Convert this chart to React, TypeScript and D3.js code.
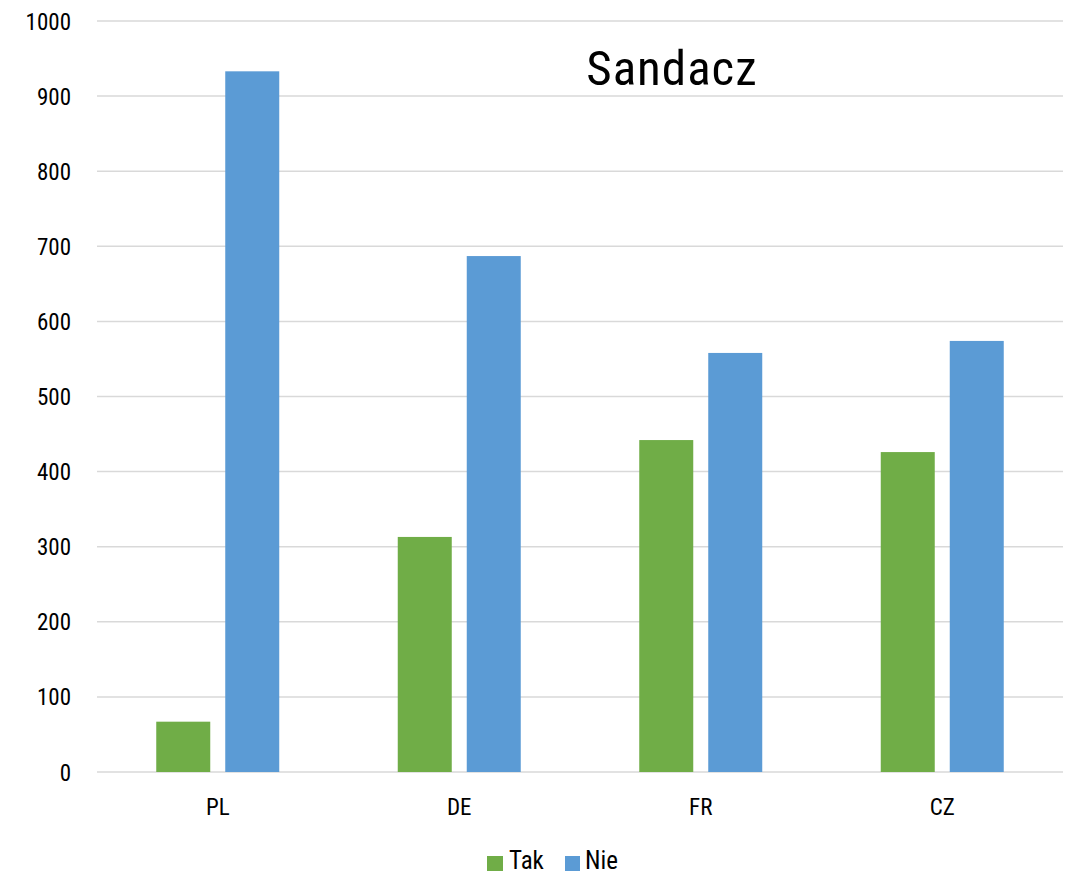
import React from "react";
import * as d3 from "d3";

const categories = ["PL", "DE", "FR", "CZ"];
const seriesNames = ["Tak", "Nie"];
const takValues = [67, 313, 442, 426];
const nieValues = [933, 687, 558, 574];
const yTicks = [0, 100, 200, 300, 400, 500, 600, 700, 800, 900, 1000];
const colors = ["#70AD47", "#5B9BD5"];
const title = "Sandacz";

const W = 1066;
const H = 877;
const FONT = "'Liberation Sans Narrow', 'Arial Narrow', 'Roboto Condensed', sans-serif";

export default function App() {
  const left = 97, right = 1063, top = 21, bottom = 772;
  const x = d3.scaleBand<string>().domain(categories).range([left, right]).paddingInner(0).paddingOuter(0);
  const y = d3.scaleLinear().domain([0, 1000]).range([bottom, top]);
  const barW = 54;
  const gap = 15;
  const series = [takValues, nieValues];
  return (
    <svg width={W} height={H} style={{ position: "absolute", left: 0, top: 0, background: "#fff" }} fontFamily={FONT}>
      {yTicks.map((t) => (
        <g key={t}>
          <line x1={left} x2={right} y1={y(t)} y2={y(t)} stroke="#d9d9d9" strokeWidth={1.5} />
          <text x={71} y={y(t) + 8.5} textAnchor="end" fontSize={23} fill="#000">{t}</text>
        </g>
      ))}
      {categories.map((c, i) => {
        const cx = x(c)! + x.bandwidth() / 2;
        const gx = cx - (barW * 2 + gap) / 2;
        return (
          <g key={c}>
            {series.map((vals, s) => (
              <rect key={s} x={gx + s * (barW + gap)} y={y(vals[i])} width={barW} height={y(0) - y(vals[i])} fill={colors[s]} />
            ))}
            <text x={cx} y={815} textAnchor="middle" fontSize={23} fill="#000">{c}</text>
          </g>
        );
      })}
      <text x={672} y={85} textAnchor="middle" fontSize={49} letterSpacing={1} fill="#000">{title}</text>
      <g>
        <rect x={487} y={856} width={16} height={15} fill={colors[0]} />
        <text x={509} y={869} fontSize={25} fill="#000">{seriesNames[0]}</text>
        <rect x={565} y={856} width={15} height={15} fill={colors[1]} />
        <text x={585} y={869} fontSize={25} fill="#000">{seriesNames[1]}</text>
      </g>
    </svg>
  );
}
